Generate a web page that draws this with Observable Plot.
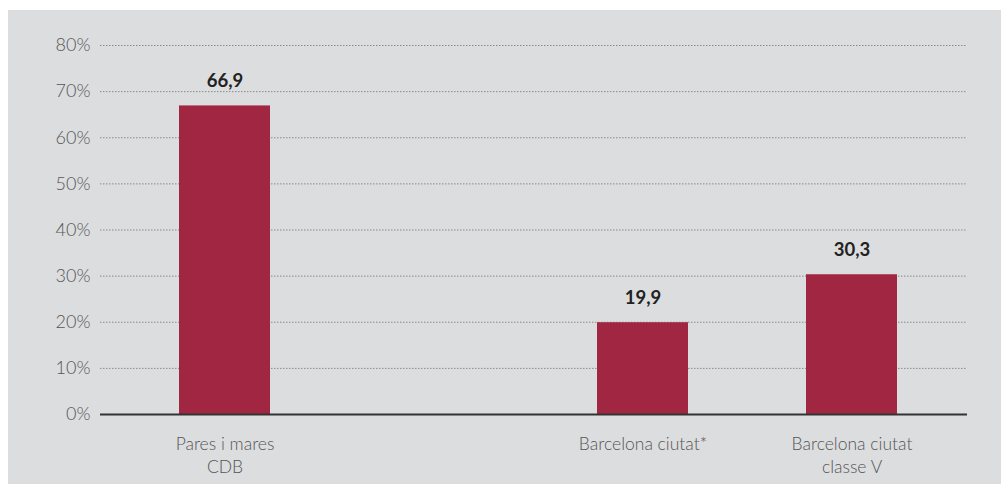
<!DOCTYPE html>
<html>
<head>
<meta charset="utf-8">
<script src="https://cdn.jsdelivr.net/npm/d3@7"></script>
<script src="https://cdn.jsdelivr.net/npm/@observablehq/plot@0.6"></script>
<style>
  html, body { margin: 0; padding: 0; background: #ffffff; }
  #panel { position: absolute; left: 8px; top: 10px; width: 993px; height: 474px; background: #dcdddf; }
  svg { display: block; }
</style>
</head>
<body>
<div id="panel"></div>
<script>
const categories = ["Pares i mares\nCDB", "Barcelona ciutat*", "Barcelona ciutat\nclasse V"];
const values = [66.9, 19.9, 30.3];
const valueLabels = ["66,9", "19,9", "30,3"];
const xDomain = [categories[0], " ", categories[1], categories[2]];
const yTicks = [0, 10, 20, 30, 40, 50, 60, 70, 80];

const data = categories.map((c, i) => ({cat: c, value: values[i], label: valueLabels[i]}));

const chart = Plot.plot({
  width: 993,
  height: 474,
  marginLeft: 92,
  marginRight: 34,
  marginTop: 35,
  marginBottom: 70,
  style: {background: "transparent", fontFamily: "Lato, sans-serif"},
  x: {domain: xDomain, paddingInner: 0.565, paddingOuter: 0.3526, align: 0.53, label: null},
  y: {domain: [0, 80], ticks: yTicks, label: null},
  marks: [
    Plot.gridY(yTicks.filter(d => d > 0), {stroke: "#8a8a8a", strokeOpacity: 1, strokeDasharray: "1.5,1.5", strokeWidth: 1}),
    Plot.axisY({ticks: yTicks, tickSize: 0, tickPadding: 10, tickFormat: d => d + "%", fontSize: 18, fontWeight: 300, fill: "#555", label: null}),
    Plot.axisX({tickSize: 0, tickPadding: 19, fontSize: 17.5, fontWeight: 300, fill: "#555", lineHeight: 1.32, label: null}),
    Plot.barY(data, {x: "cat", y: "value", fill: "#a12641"}),
    Plot.text(data, {x: "cat", y: "value", text: "label", dy: -25, fontSize: 18.5, fontWeight: "bold", fill: "#222"}),
    Plot.ruleY([0], {stroke: "#333", strokeWidth: 2})
  ]
});
document.getElementById("panel").appendChild(chart);
</script>
</body>
</html>
